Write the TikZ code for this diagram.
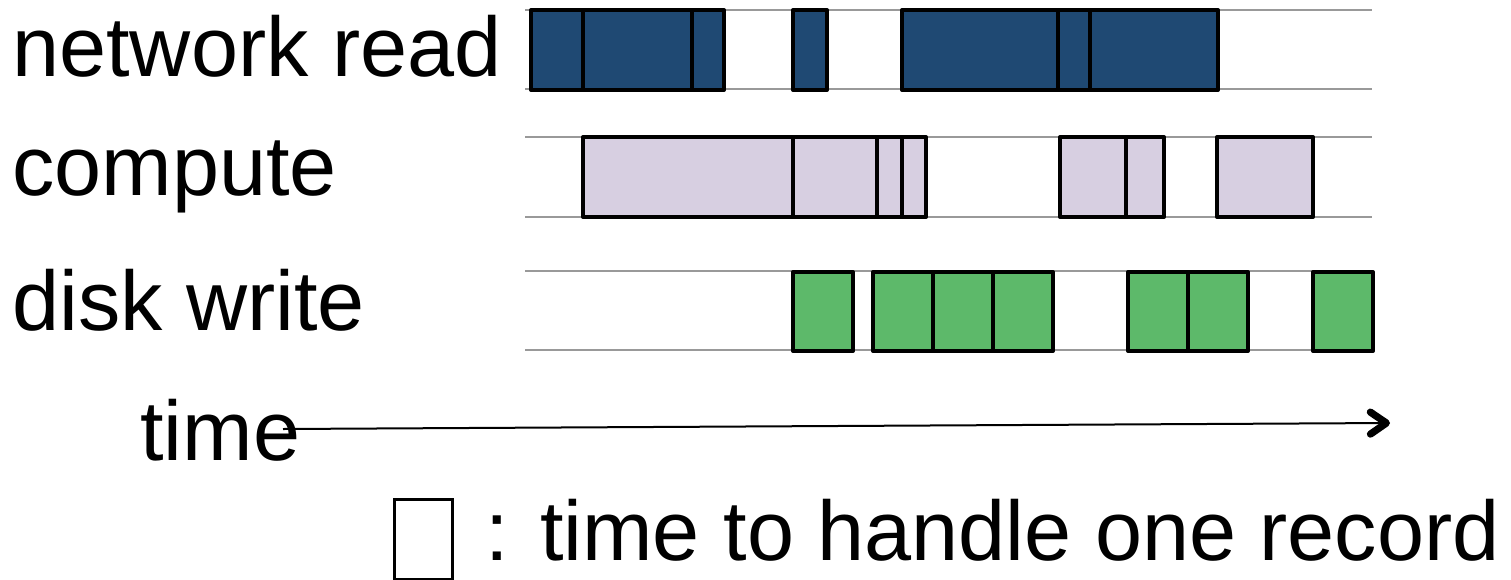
\documentclass[tikz,border=0pt]{standalone}
\usepackage{fontspec}
\setmainfont{Liberation Sans}
\usetikzlibrary{arrows.meta}
\definecolor{netblue}{RGB}{31,73,115}
\definecolor{cpulilac}{RGB}{215,207,225}
\definecolor{diskgreen}{RGB}{93,185,106}

\begin{document}
\begin{tikzpicture}[x=0.5pt,y=-0.5pt,
  lbl/.style={anchor=base west,inner sep=0pt,font=\fontsize{42.3}{50}\selectfont},
  lane/.style={color=black!40,line width=1pt},
  rec/.style={draw=black,line width=2pt,line join=round}]
\useasboundingbox (0,0) rectangle (1511,579);
% lanes
\draw[lane] (525,10) -- (1372,10) (525,89) -- (1372,89);
\draw[lane] (525,137) -- (1372,137) (525,217) -- (1372,217);
\draw[lane] (525,271) -- (1372,271) (525,350) -- (1372,350);
% network read
\node[lbl] (net) at (12,76) {network read};
\draw[rec,fill=netblue] (531,10) rectangle (583,90) (583,10) rectangle (692,90)
  (692,10) rectangle (724,90) (793,10) rectangle (827,90)
  (902,10) rectangle (1058,90) (1058,10) rectangle (1090,90) (1090,10) rectangle (1218,90);
% compute
\node[lbl] (cpu) at (12,195) {compute};
\draw[rec,fill=cpulilac] (583,137) rectangle (793,217) (793,137) rectangle (877,217)
  (877,137) rectangle (902,217) (902,137) rectangle (926,217)
  (1060,137) rectangle (1126,217) (1126,137) rectangle (1164,217) (1217,137) rectangle (1313,217);
% disk write
\node[lbl] (disk) at (12,330) {disk write};
\draw[rec,fill=diskgreen] (793,272) rectangle (853,351)
  (873,272) rectangle (933,351) (933,272) rectangle (993,351) (993,272) rectangle (1053,351)
  (1128,272) rectangle (1188,351) (1188,272) rectangle (1248,351) (1313,272) rectangle (1373,351);
% time axis
\node[lbl] (time) at (140,460) {time};
\coordinate (t0) at (283,429);
\coordinate (t1) at (1390,423);
\draw[line width=1pt,-{Straight Barb[length=8pt,width=11pt,line width=3.6pt,round]}] (t0) -- (t1);
% legend
\node[draw,line width=1.6pt,minimum width=29pt,minimum height=40pt,inner sep=0pt,anchor=north west] (key) at (393,498) {};
\node[lbl] (legend) at (485,560) {: time to handle one record};
\end{tikzpicture}
\end{document}
